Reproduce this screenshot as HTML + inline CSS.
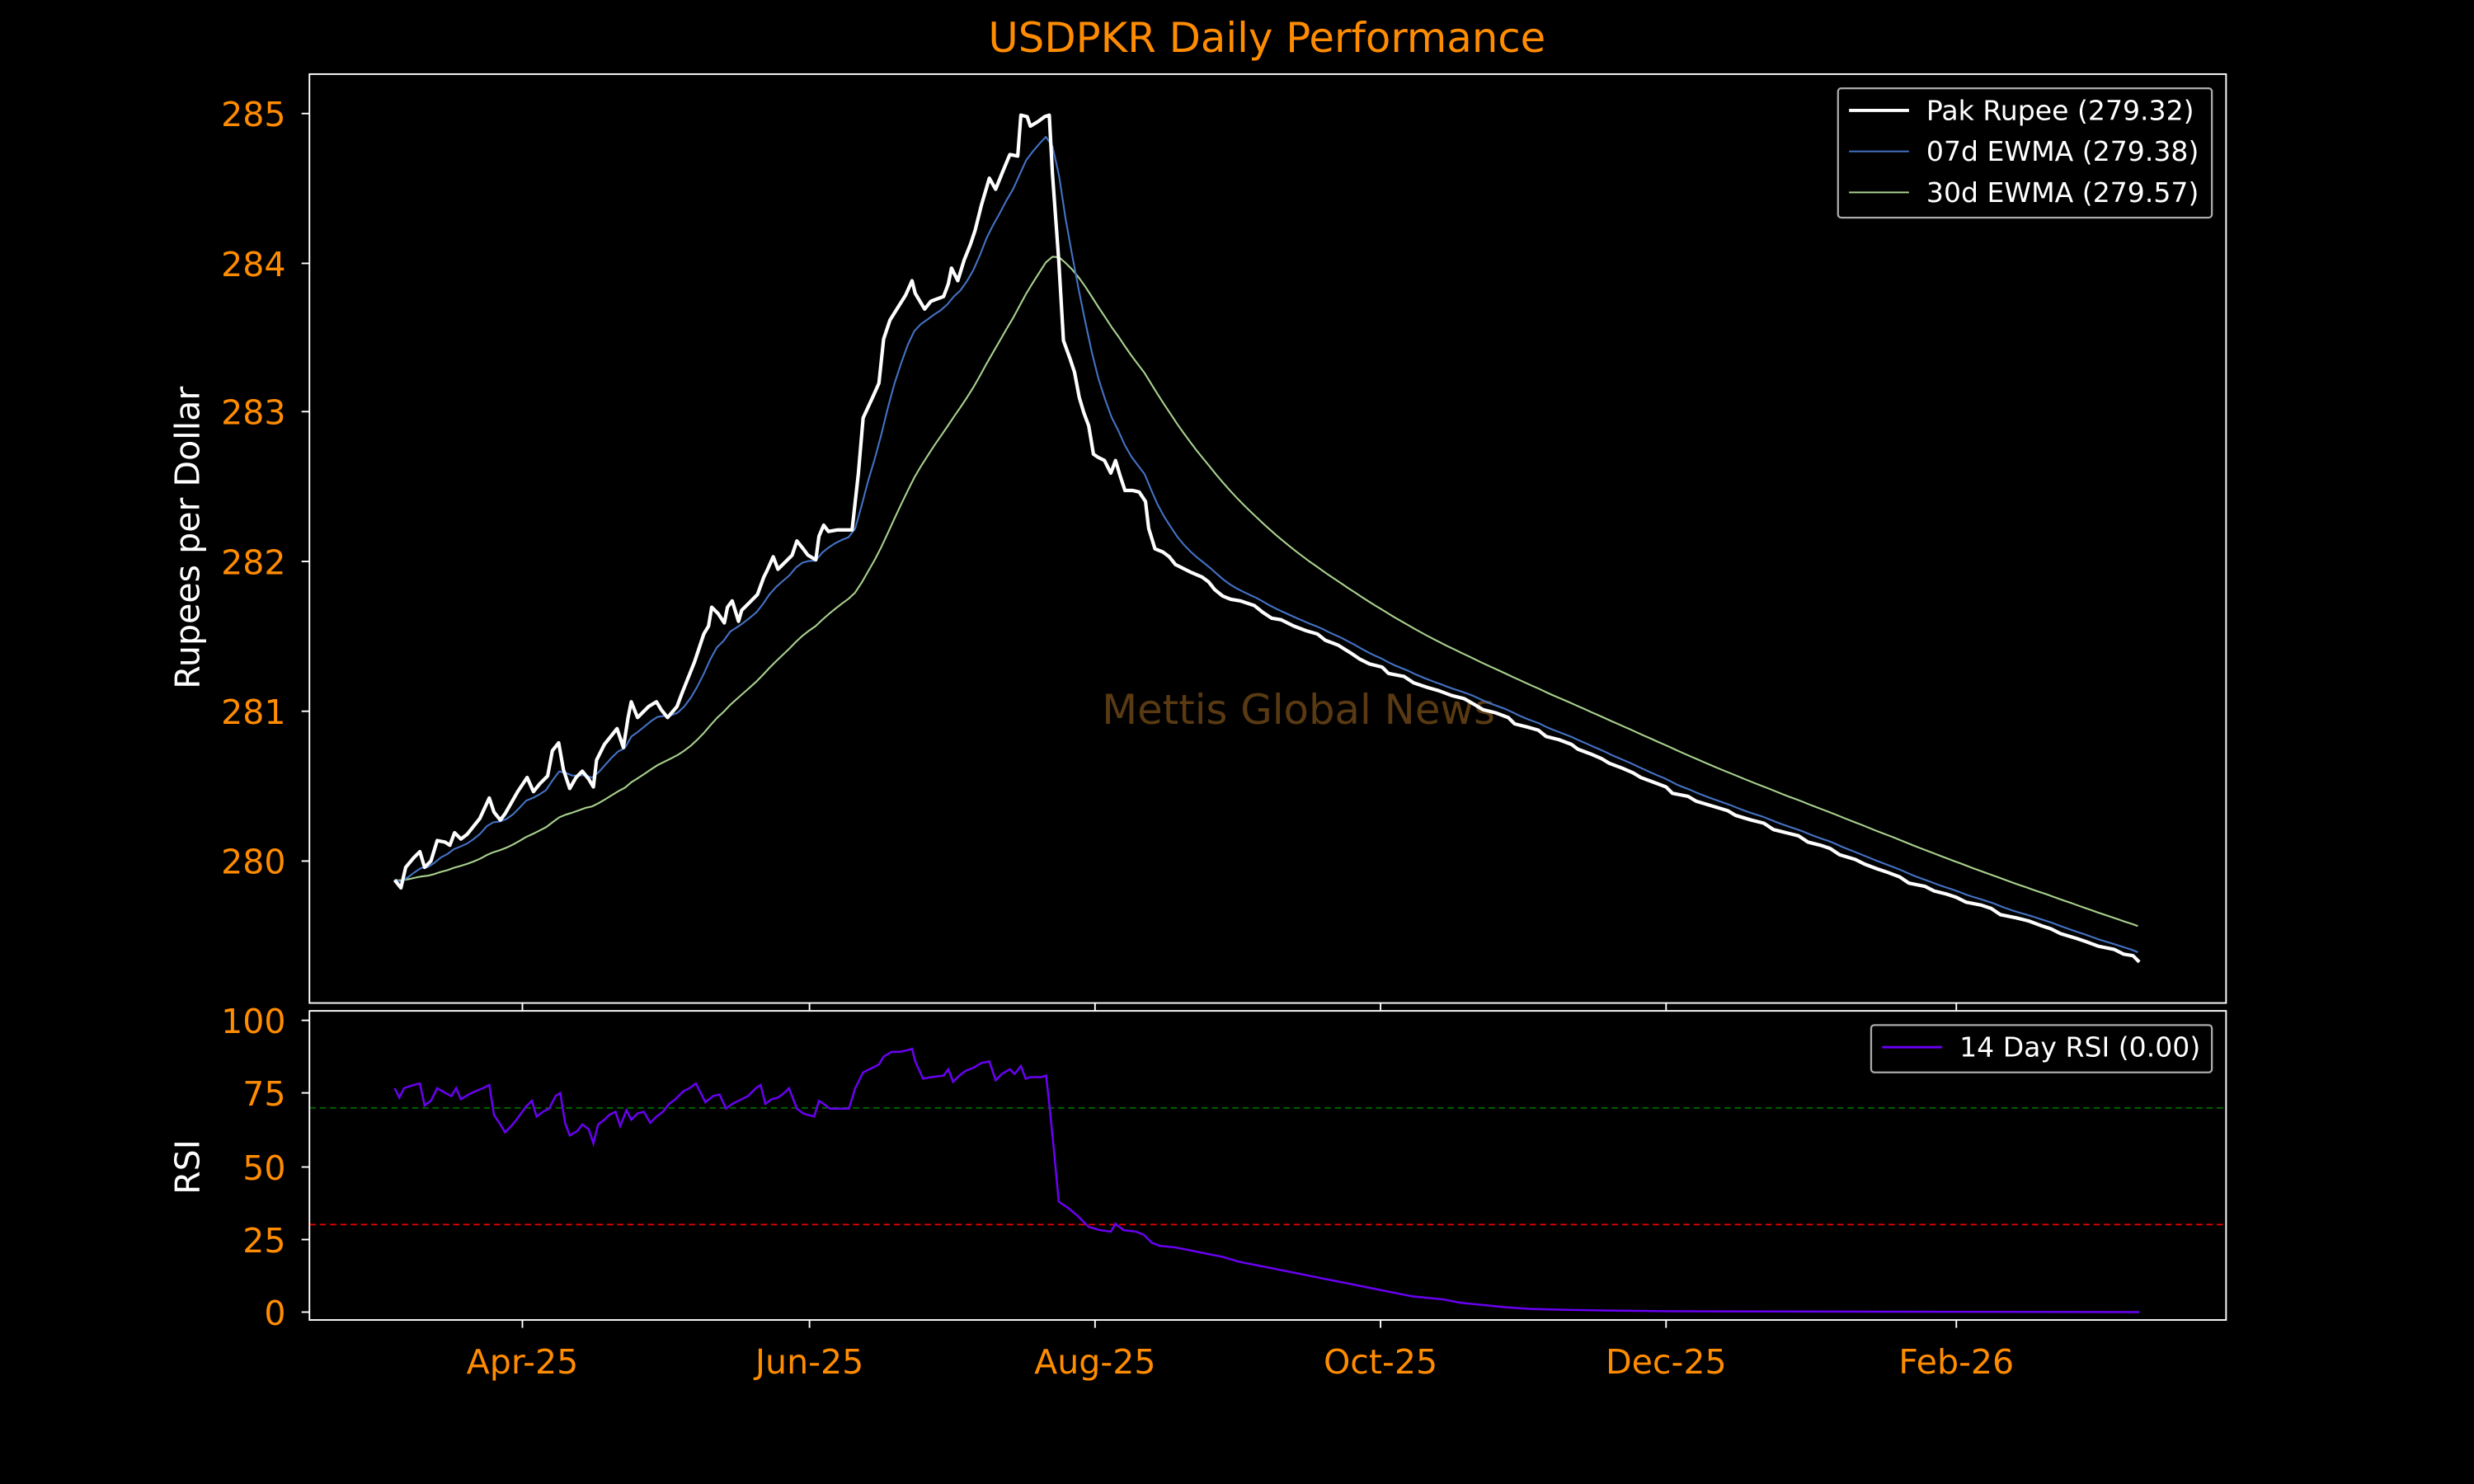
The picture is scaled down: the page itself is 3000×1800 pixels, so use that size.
<!DOCTYPE html>
<html><head><meta charset="utf-8"><style>
html,body{margin:0;padding:0;background:#000;}
svg{display:block;}
text{font-family:"DejaVu Sans","Liberation Sans",sans-serif;}
</style></head><body>
<svg id="s" width="3000" height="1800" viewBox="0 0 1568 941" xmlns="http://www.w3.org/2000/svg">
<rect width="1568" height="941" fill="#000"/>
<text x="803" y="33" fill="#ff8c00" font-size="26" text-anchor="middle">USDPKR Daily Performance</text>
<text x="823" y="459" fill="#5a3a12" font-size="26" text-anchor="middle">Mettis Global News</text>
<g stroke="#fff" stroke-width="1">
<line x1="196" y1="72" x2="191" y2="72"/><line x1="196" y1="167" x2="191" y2="167"/><line x1="196" y1="261" x2="191" y2="261"/>
<line x1="196" y1="356" x2="191" y2="356"/><line x1="196" y1="451" x2="191" y2="451"/><line x1="196" y1="546" x2="191" y2="546"/>
<line x1="331" y1="636" x2="331" y2="641"/><line x1="513" y1="636" x2="513" y2="641"/><line x1="694" y1="636" x2="694" y2="641"/>
<line x1="875" y1="636" x2="875" y2="641"/><line x1="1056" y1="636" x2="1056" y2="641"/><line x1="1240" y1="636" x2="1240" y2="641"/>
<line x1="196" y1="647" x2="191" y2="647"/><line x1="196" y1="693" x2="191" y2="693"/><line x1="196" y1="740" x2="191" y2="740"/>
<line x1="196" y1="786" x2="191" y2="786"/><line x1="196" y1="832" x2="191" y2="832"/>
<line x1="331" y1="837" x2="331" y2="842"/><line x1="513" y1="837" x2="513" y2="842"/><line x1="694" y1="837" x2="694" y2="842"/>
<line x1="875" y1="837" x2="875" y2="842"/><line x1="1056" y1="837" x2="1056" y2="842"/><line x1="1240" y1="837" x2="1240" y2="842"/>
</g>
<g fill="#ff8c00" font-size="21.5" text-anchor="end">
<text x="181" y="80">285</text><text x="181" y="175">284</text><text x="181" y="269">283</text>
<text x="181" y="364">282</text><text x="181" y="459">281</text><text x="181" y="554">280</text>
<text x="181" y="655">100</text><text x="181" y="701">75</text><text x="181" y="748">50</text>
<text x="181" y="794">25</text><text x="181" y="840">0</text>
</g>
<g fill="#ff8c00" font-size="21.5" text-anchor="middle">
<text x="331" y="871">Apr-25</text><text x="513" y="871">Jun-25</text><text x="694" y="871">Aug-25</text>
<text x="875" y="871">Oct-25</text><text x="1056" y="871">Dec-25</text><text x="1240" y="871">Feb-26</text>
</g>
<text transform="translate(126,341) rotate(-90)" fill="#fff" font-size="21.5" text-anchor="middle">Rupees per Dollar</text>
<text transform="translate(126,740) rotate(-90)" fill="#fff" font-size="21.5" text-anchor="middle">RSI</text>
<line x1="196" y1="702.5" x2="1411" y2="702.5" stroke="#006400" stroke-width="1" stroke-dasharray="4,2.5"/>
<line x1="196" y1="776.5" x2="1411" y2="776.5" stroke="#e00000" stroke-width="1" stroke-dasharray="4,2.5"/>
<g id="series"></g>
<polyline fill="none" stroke="#6a00f4" stroke-width="1.3" points="250,690 253,696 256,690 262,688 266,687 269,701 273,698 277,690 282,693 286,695 289,690 292,697 297,694 301,692 306,690 310,688 313,707 317,713 320,718 324,714 328,709 333,702 337,698 340,708 344,705 348,703 352,695 355,693 358,712 361,720 366,717 369,713 373,716 376,725 379,713 383,710 386,707 390,705 393,714 397,704 400,710 404,706 408,705 412,712 416,708 420,705 424,700 428,697 433,692 437,690 441,687 444,693 447,699 452,695 456,694 460,703 464,700 468,698 474,695 479,690 482,688 485,700 489,697 493,696 497,693 500,690 505,703 509,706 512,707 516,708 519,698 522,700 526,703 531,703 538,703 542,690 547,680 553,677 557,675 560,670 565,667 570,667 575,666 578,665 580,673 585,684 590,683 598,682 601,678 604,686 608,682 612,679 617,677 622,674 627,673 631,685 635,681 640,678 643,681 647,676 650,684 653,683 660,683 663,682 665,700 668,730 671,762 677,766 683,771 690,778 697,780 704,781 707,776 712,780 720,781 725,783 730,788 735,790 745,791 755,793 765,795 775,797 785,800 795,802 805,804 815,806 825,808 835,810 845,812 855,814 865,816 875,818 885,820 895,822 905,823 915,824 925,826 935,827 945,828 955,829 970,830 990,830.5 1020,831 1060,831.5 1356,832"/>
<rect x="196" y="47" width="1215" height="589" fill="none" stroke="#fff" stroke-width="1"/>
<rect x="196" y="641" width="1215" height="196" fill="none" stroke="#fff" stroke-width="1"/>
<rect x="1165" y="56" width="237" height="82" rx="2" fill="#000" stroke="#aaa" stroke-width="1.2"/>
<line x1="1172" y1="70" x2="1210" y2="70" stroke="#fff" stroke-width="2"/>
<line x1="1172" y1="96" x2="1210" y2="96" stroke="#4472c4" stroke-width="1"/>
<line x1="1172" y1="122" x2="1210" y2="122" stroke="#a9d18e" stroke-width="1"/>
<g fill="#fff" font-size="17.3">
<text x="1221" y="76">Pak Rupee (279.32)</text>
<text x="1221" y="102">07d EWMA (279.38)</text>
<text x="1221" y="128">30d EWMA (279.57)</text>
<text x="1242" y="670">14 Day RSI (0.00)</text>
</g>
<rect x="1186" y="650" width="216" height="30" rx="2" fill="none" stroke="#aaa" stroke-width="1.2"/>
<line x1="1193" y1="664" x2="1231" y2="664" stroke="#6a00f4" stroke-width="1.5"/>
</svg>
<script>
var W=[[250,558],[254,563],[257,550],[262,544],[266,540],[269,550],[273,546],[277,533],[282,534],[285,536],[288,528],[292,532],[296,529],[300,524],[304,519],[310,506],[313,515],[317,520],[320,516],[324,509],[328,502],[334,493],[338,502],[342,497],[347,492],[350,476],[354,471],[357,488],[361,500],[365,493],[369,489],[373,494],[376,499],[378,482],[383,472],[387,467],[391,462],[395,474],[398,455],[400,445],[404,455],[407,452],[411,448],[416,445],[419,450],[423,455],[429,448],[432,440],[436,430],[440,420],[444,408],[446,402],[449,397],[451,385],[455,389],[459,395],[461,385],[464,381],[468,394],[470,387],[475,382],[480,377],[484,366],[486,362],[490,353],[493,361],[498,356],[502,352],[505,343],[509,348],[512,352],[517,355],[519,340],[522,333],[525,337],[531,336],[540,336],[544,300],[547,265],[553,252],[557,243],[560,215],[564,203],[569,195],[574,187],[578,178],[580,186],[586,196],[590,191],[598,188],[601,180],[603,170],[607,178],[611,165],[615,155],[618,146],[622,130],[627,113],[631,120],[635,110],[640,98],[645,99],[647,73],[651,74],[653,80],[658,77],[662,74],[665,73],[667,110],[671,165],[674,216],[678,227],[681,236],[684,252],[687,262],[690,270],[693,288],[696,290],[700,292],[704,300],[707,292],[710,302],[713,311],[718,311],[722,312],[726,318],[728,335],[732,348],[737,350],[741,353],[745,358],[755,363],[762,366],[766,369],[770,374],[775,378],[780,380],[786,381],[795,384],[800,388],[806,392],[812,393],[820,397],[828,400],[835,402],[840,406],[848,409],[856,414],[862,418],[868,421],[876,423],[880,427],[890,429],[896,433],[905,436],[912,438],[920,441],[928,443],[935,447],[940,450],[948,452],[956,455],[960,459],[968,461],[975,463],[980,467],[988,469],[996,472],[1000,475],[1008,478],[1015,481],[1020,484],[1028,487],[1035,490],[1040,493],[1048,496],[1056,499],[1060,503],[1070,505],[1075,508],[1085,511],[1095,514],[1100,517],[1110,520],[1118,522],[1124,526],[1132,528],[1140,530],[1146,534],[1154,536],[1160,538],[1166,542],[1176,545],[1182,548],[1190,551],[1196,553],[1204,556],[1210,560],[1220,562],[1226,565],[1234,567],[1240,569],[1246,572],[1256,574],[1262,576],[1268,580],[1278,582],[1286,584],[1294,587],[1300,589],[1306,592],[1316,595],[1322,597],[1330,600],[1340,602],[1346,605],[1352,606],[1356,610]];
function yAt(x){for(var i=1;i<W.length;i++){if(W[i][0]>=x){var a=W[i-1],b=W[i];return a[1]+(b[1]-a[1])*(x-a[0])/(b[0]-a[0]||1);}}return W[W.length-1][1];}
function ewma(al){var p=[],e=null;for(var x=250;x<=1356.01;x+=4.17){var y=yAt(x);e=e===null?y:al*y+(1-al)*e;p.push(x.toFixed(1)+","+e.toFixed(1));}return p.join(" ");}
var g=document.getElementById("series"),NS="http://www.w3.org/2000/svg";
function pl(pts,c,w){var e=document.createElementNS(NS,"polyline");e.setAttribute("points",pts);e.setAttribute("fill","none");e.setAttribute("stroke",c);e.setAttribute("stroke-width",w);e.setAttribute("stroke-linejoin","round");g.appendChild(e);}
pl(ewma(2/31),"#a9d18e",1.1);
pl(ewma(0.25),"#4472c4",1.1);
pl(W.map(function(p){return p.join(",")}).join(" "),"#fff",2.2);
</script>
</body></html>
